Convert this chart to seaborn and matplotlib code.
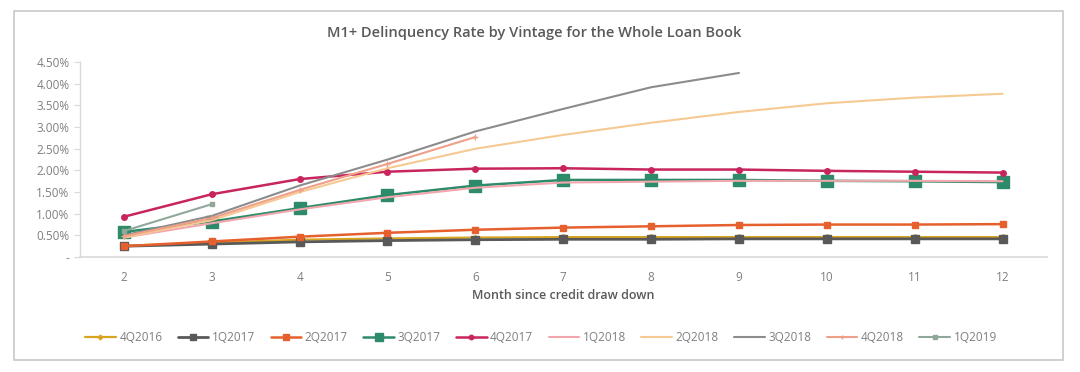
import matplotlib
matplotlib.use("Agg")
import matplotlib.pyplot as plt
import seaborn as sns
import pandas as pd
from matplotlib.patches import Rectangle
from matplotlib.ticker import FuncFormatter

months = [2, 3, 4, 5, 6, 7, 8, 9, 10, 11, 12]

vintages = ["4Q2016", "1Q2017", "2Q2017", "3Q2017", "4Q2017",
            "1Q2018", "2Q2018", "3Q2018", "4Q2018", "1Q2019"]

# delinquency rate in %
v_4q2016 = [0.26, 0.33, 0.40, 0.43, 0.45, 0.46, 0.46, 0.46, 0.46, 0.46, 0.46]
v_1q2017 = [0.25, 0.30, 0.35, 0.38, 0.40, 0.41, 0.41, 0.42, 0.42, 0.42, 0.42]
v_2q2017 = [0.25, 0.36, 0.47, 0.56, 0.63, 0.68, 0.71, 0.74, 0.75, 0.75, 0.76]
v_3q2017 = [0.58, 0.82, 1.13, 1.43, 1.65, 1.78, 1.78, 1.78, 1.76, 1.75, 1.73]
v_4q2017 = [0.93, 1.45, 1.80, 1.97, 2.04, 2.05, 2.02, 2.02, 1.99, 1.97, 1.95]
v_1q2018 = [0.45, 0.78, 1.10, 1.38, 1.60, 1.72, 1.74, 1.76, 1.76, 1.76, 1.75]
v_2q2018 = [0.45, 0.85, 1.50, 2.05, 2.50, 2.82, 3.10, 3.35, 3.55, 3.68, 3.77]
v_3q2018 = [0.50, 0.95, 1.65, 2.25, 2.90, 3.42, 3.92, 4.25]
v_4q2018 = [0.48, 0.90, 1.55, 2.15, 2.77]
v_1q2019 = [0.60, 1.22]

series = [v_4q2016, v_1q2017, v_2q2017, v_3q2017, v_4q2017,
          v_1q2018, v_2q2018, v_3q2018, v_4q2018, v_1q2019]

colors = ["#d9a520", "#595959", "#e5602c", "#2e8b6a", "#c8245e",
          "#f2a6ae", "#f7c992", "#8c8c8c", "#f0a088", "#8fa89a"]
markers = ["D", "s", "s", "s", "o", None, None, None, "+", "s"]
msizes = [3, 6, 5, 8, 4, 0, 0, 0, 4, 3]
lwidths = [1.6, 2.0, 1.8, 1.8, 1.8, 1.5, 1.5, 1.5, 1.5, 1.5]

sns.set_style("white")
plt.rcParams['font.family'] = ['Open Sans', 'DejaVu Sans']

fig = plt.figure(figsize=(10.8, 3.72), dpi=100)
ax = fig.add_axes([0.074, 0.309, 0.895, 0.524])

for name, vals, c, m, ms, lw in zip(vintages, series, colors, markers, msizes, lwidths):
    df = pd.DataFrame({"month": months[:len(vals)], "rate": vals})
    sns.lineplot(data=df, x="month", y="rate", ax=ax, color=c, marker=m,
                 markersize=ms, linewidth=lw, label=name,
                 markeredgecolor=c, markeredgewidth=1)

ax.set_xlim(1.5, 12.5)
ax.set_ylim(0, 4.5)
ax.set_xticks(months)
ax.set_yticks([i * 0.5 for i in range(10)])
ax.yaxis.set_major_formatter(FuncFormatter(lambda v, p: "-" if v == 0 else f"{v:.2f}%"))
ax.tick_params(axis="x", length=0, labelsize=8.5, labelcolor="#7f7f7f", pad=10)
ax.tick_params(axis="y", length=4, color="#d9d9d9", labelsize=8.5, labelcolor="#7f7f7f", left=True)

for s in ["top", "right"]:
    ax.spines[s].set_visible(False)
ax.spines["left"].set_color("#d9d9d9")
ax.spines["bottom"].set_color("#d9d9d9")
ax.spines["left"].set_linewidth(1)
ax.spines["bottom"].set_linewidth(1.2)

ax.set_xlabel("Month since credit draw down", fontsize=9, color="#595959",
              fontweight="semibold", labelpad=4)
ax.set_ylabel("")
fig.text(0.495, 0.912, "M1+ Delinquency Rate by Vintage for the Whole Loan Book",
         ha="center", va="center", fontsize=10.5, color="#595959", fontweight="semibold")

leg = ax.legend(loc="center", bbox_to_anchor=(0.477, -0.415), ncol=10, frameon=False,
                fontsize=8.5, handlelength=2.6, columnspacing=1.3, handletextpad=0.3,
                markerscale=0.8)
for t in leg.get_texts():
    t.set_color("#7f7f7f")

fig.patches.append(Rectangle((14 / 1080, 1 - 360 / 372), 1049 / 1080, 349 / 372,
                             transform=fig.transFigure, fill=False,
                             edgecolor="#c8c8c8", linewidth=1.2))

fig.savefig("out.png", dpi=100, facecolor="white")
